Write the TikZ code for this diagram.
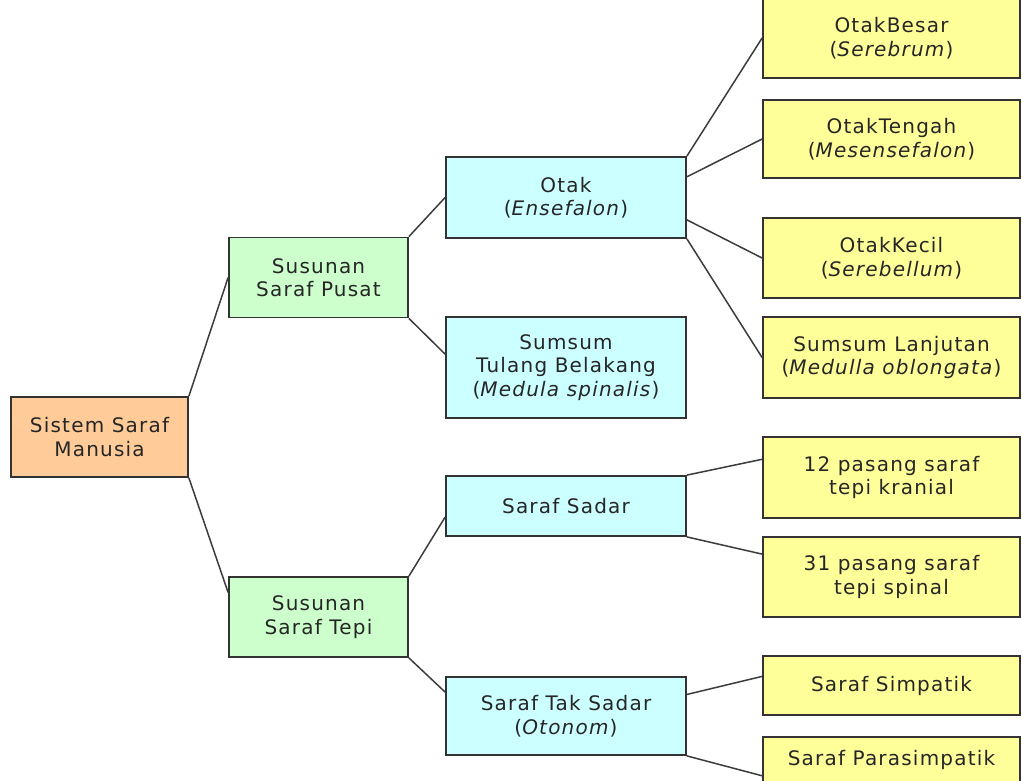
\documentclass[tikz,border=0pt]{standalone}
\usepackage{fontspec}
\setmainfont{DejaVu Sans}[LetterSpace=6]
\usepackage{xcolor}
\usetikzlibrary{calc}
\definecolor{oranye}{RGB}{255,204,153}
\definecolor{hijau}{RGB}{204,255,204}
\definecolor{biru}{RGB}{204,255,255}
\definecolor{kuning}{RGB}{255,255,153}
\definecolor{garis}{RGB}{60,60,60}

\begin{document}
\begin{tikzpicture}[x=1pt,y=-1pt,
  kotak/.style={draw=black!80,line width=1.8pt,align=center,inner sep=0pt,
    text=black!85,font=\fontsize{20}{23.5}\selectfont},
  akar/.style={kotak,fill=oranye,minimum width=177pt,minimum height=80pt},
  cabang/.style={kotak,fill=hijau,minimum width=179pt,minimum height=80pt},
  ranting/.style={kotak,fill=biru,minimum width=240pt},
  daun/.style={kotak,fill=kuning,minimum width=257pt},
  hubung/.style={draw=garis,line width=1.5pt}]
\useasboundingbox (0,0) rectangle (1022,780);
\clip (0,0) rectangle (1022,780);
\fill[white] (0,0) rectangle (1022,780);
\node[akar] (sistem) at (99.5,437) {Sistem Saraf\\Manusia};
\node[cabang] (pusat) at (318.5,277.5) {Susunan\\Saraf Pusat};
\node[cabang] (tepi) at (318.5,617) {Susunan\\Saraf Tepi};
\node[ranting,minimum height=81pt] (otak) at (566,197.5) {Otak\\(\textit{Ensefalon})};
\node[ranting,minimum height=101pt] (sumsum) at (566,367.5) {Sumsum\\Tulang Belakang\\(\textit{Medula spinalis})};
\node[ranting,minimum height=60pt] (sadar) at (566,506) {Saraf Sadar};
\node[ranting,minimum height=78pt] (taksadar) at (566,716) {Saraf Tak Sadar\\(\textit{Otonom})};
\node[daun,minimum height=80pt] (besar) at (891.5,38) {OtakBesar\\(\textit{Serebrum})};
\node[daun,minimum height=78pt] (tengah) at (891.5,139) {OtakTengah\\(\textit{Mesensefalon})};
\node[daun,minimum height=80pt] (kecil) at (891.5,258) {OtakKecil\\(\textit{Serebellum})};
\node[daun,minimum height=81pt] (lanjutan) at (891.5,357.5) {Sumsum Lanjutan\\(\textit{Medulla oblongata})};
\node[daun,minimum height=81pt] (kranial) at (891.5,477.5) {12 pasang saraf\\tepi kranial};
\node[daun,minimum height=80pt] (spinal) at (891.5,577) {31 pasang saraf\\tepi spinal};
\node[daun,minimum height=59pt] (simpatik) at (891.5,685.5) {Saraf Simpatik};
\node[daun,minimum height=46pt] (parasimpatik) at (891.5,760) {Saraf Parasimpatik};
\draw[hubung] (sistem.north east) -- (pusat.west);
\draw[hubung] (sistem.south east) -- ($(tepi.north west)!0.2!(tepi.south west)$);
\draw[hubung] (pusat.north east) -- (otak.west);
\draw[hubung] (pusat.south east) -- ($(sumsum.north west)!0.37!(sumsum.south west)$);
\draw[hubung] (otak.north east) -- (besar.west);
\draw[hubung] ($(otak.north east)!0.25!(otak.south east)$) -- (tengah.west);
\draw[hubung] ($(otak.north east)!0.77!(otak.south east)$) -- (kecil.west);
\draw[hubung] (otak.south east) -- (lanjutan.west);
\draw[hubung] (tepi.north east) -- ($(sadar.north west)!0.68!(sadar.south west)$);
\draw[hubung] (sadar.north east) -- ($(kranial.north west)!0.28!(kranial.south west)$);
\draw[hubung] (sadar.south east) -- ($(spinal.north west)!0.22!(spinal.south west)$);
\draw[hubung] (tepi.south east) -- ($(taksadar.north west)!0.2!(taksadar.south west)$);
\draw[hubung] ($(taksadar.north east)!0.23!(taksadar.south east)$) -- ($(simpatik.north west)!0.35!(simpatik.south west)$);
\draw[hubung] (taksadar.south east) -- ($(parasimpatik.north west)!0.83!(parasimpatik.south west)$);
\end{tikzpicture}
\end{document}
